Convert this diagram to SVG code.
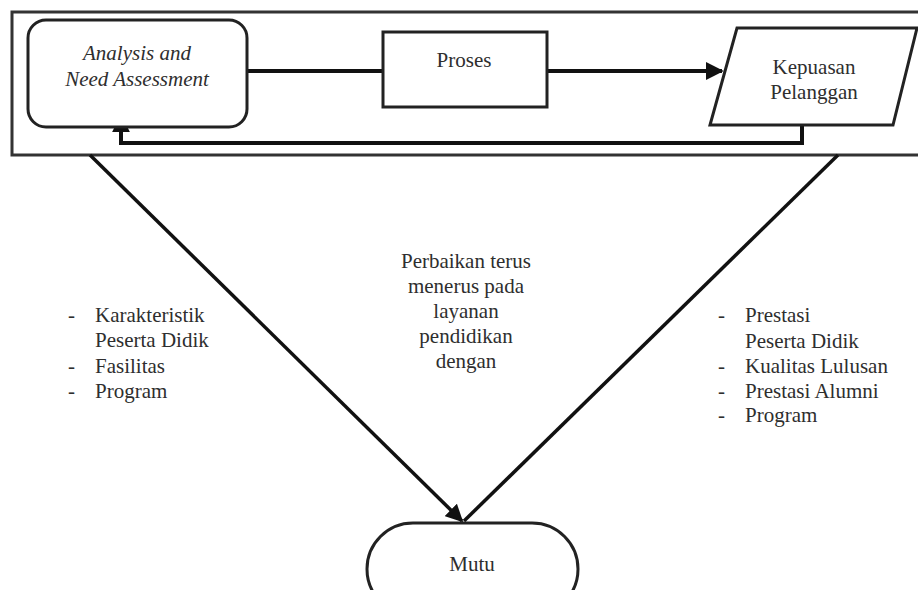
<svg xmlns="http://www.w3.org/2000/svg" width="918" height="590" viewBox="0 0 918 590">
<style>
.t{font-family:"Liberation Serif","Times New Roman",serif;font-size:21px;fill:#2e2e2e}
.i{font-style:italic}
.box{fill:#fff;stroke:#222;stroke-width:3}
.ln{fill:none;stroke:#111;stroke-width:4}
.dg{fill:none;stroke:#111;stroke-width:3.5}
</style>
<defs>
<marker id="ah" viewBox="0 0 10 10" refX="9" refY="5" markerWidth="4.5" markerHeight="4.5" markerUnits="strokeWidth" orient="auto"><path d="M0,0L10,5L0,10z" fill="#111"/></marker>
<marker id="ah2" viewBox="0 0 10 10" refX="9" refY="5" markerWidth="5" markerHeight="5" markerUnits="strokeWidth" orient="auto"><path d="M0,0L10,5L0,10z" fill="#111"/></marker>
</defs>
<rect width="918" height="590" fill="#fff"/>
<g id="frame"><rect x="12" y="12" width="930" height="143" fill="none" stroke="#333" stroke-width="3"/></g>
<g id="connectors">
<line class="ln" x1="247" y1="71" x2="383" y2="71"/>
<line class="ln" x1="547" y1="71" x2="722" y2="71" marker-end="url(#ah)"/>
<polyline class="ln" points="802,125 802,143 121,143 121,116" marker-end="url(#ah)"/>
<line class="dg" x1="90" y1="155" x2="462" y2="521" marker-end="url(#ah2)"/>
<line class="dg" x1="838" y1="155" x2="464" y2="521"/>
</g>
<g id="analysis"><rect class="box" x="28" y="20" width="219" height="107" rx="18"/>
<text class="t i" x="137" y="60" text-anchor="middle">Analysis and</text>
<text class="t i" x="137" y="86" text-anchor="middle">Need Assessment</text></g>
<g id="proses"><rect class="box" x="383" y="32" width="164" height="75"/>
<text class="t" x="464" y="67" text-anchor="middle">Proses</text></g>
<g id="kepuasan"><polygon class="box" points="737,28 917,28 893,125 710,125"/>
<text class="t" x="814" y="74" text-anchor="middle">Kepuasan</text>
<text class="t" x="814" y="99" text-anchor="middle">Pelanggan</text></g>
<g id="center-text">
<text class="t" x="466" y="268" text-anchor="middle">Perbaikan terus</text>
<text class="t" x="466" y="293" text-anchor="middle">menerus pada</text>
<text class="t" x="466" y="318" text-anchor="middle">layanan</text>
<text class="t" x="466" y="343" text-anchor="middle">pendidikan</text>
<text class="t" x="466" y="368" text-anchor="middle">dengan</text>
</g>
<g id="left-list">
<text class="t" x="68" y="322">-</text><text class="t" x="95" y="322">Karakteristik</text>
<text class="t" x="95" y="347">Peserta Didik</text>
<text class="t" x="68" y="373">-</text><text class="t" x="95" y="373">Fasilitas</text>
<text class="t" x="68" y="398">-</text><text class="t" x="95" y="398">Program</text>
</g>
<g id="right-list">
<text class="t" x="718" y="322">-</text><text class="t" x="745" y="322">Prestasi</text>
<text class="t" x="745" y="348">Peserta Didik</text>
<text class="t" x="718" y="373">-</text><text class="t" x="745" y="373">Kualitas Lulusan</text>
<text class="t" x="718" y="398">-</text><text class="t" x="745" y="398">Prestasi Alumni</text>
<text class="t" x="718" y="422">-</text><text class="t" x="745" y="422">Program</text>
</g>
<g id="mutu"><rect class="box" x="367" y="523" width="211" height="92" rx="46"/>
<text class="t" x="472" y="571" text-anchor="middle">Mutu</text></g>
</svg>
